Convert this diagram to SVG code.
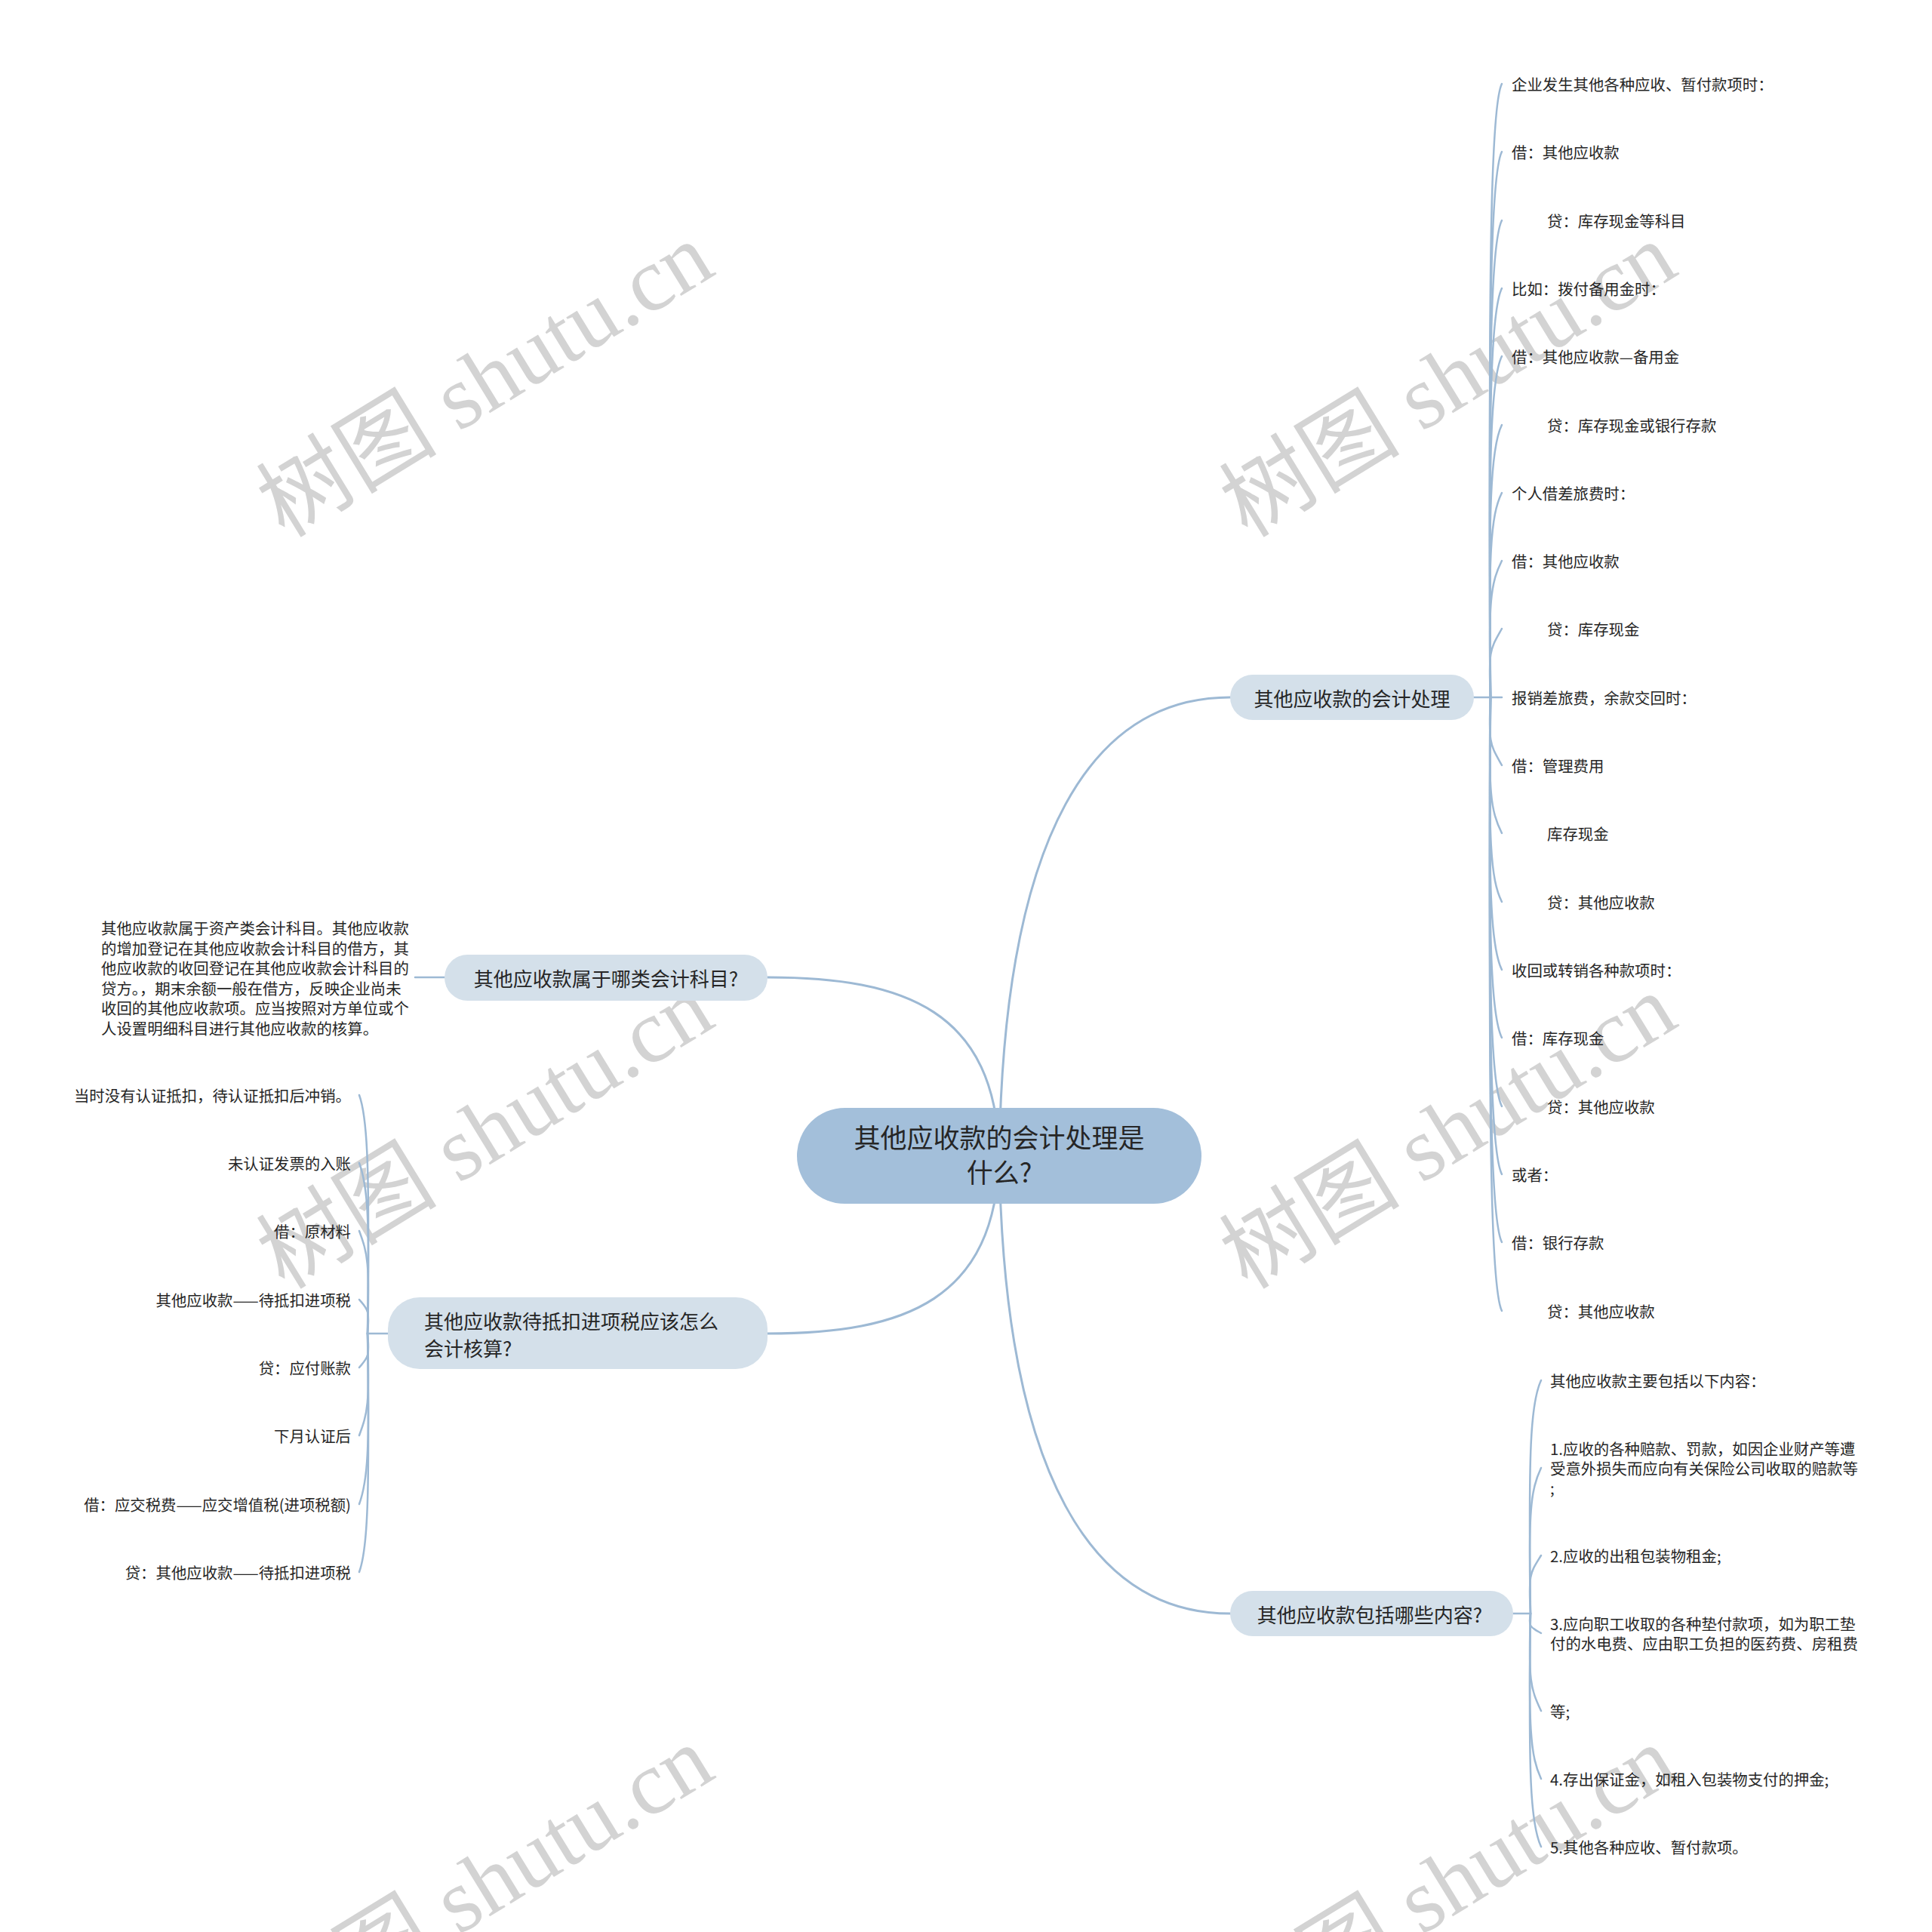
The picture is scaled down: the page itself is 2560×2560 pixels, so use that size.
<svg xmlns="http://www.w3.org/2000/svg" width="2560" height="2560" viewBox="0 0 2560 2560">
<style>
.wm{font-family:"Liberation Serif","Noto Sans CJK SC",serif;font-size:120px;fill:#d3d3d3;text-anchor:middle}
.ln{fill:none;stroke:#9db9d4;stroke-width:3;stroke-linecap:round}
.lf{fill:none;stroke:#9db9d4;stroke-width:2.5;stroke-linecap:round}
.t{font-family:"Noto Sans CJK SC","Noto Sans",sans-serif;fill:#262626;dominant-baseline:central}
.leaf{font-size:20.4px}
.br{font-size:26px}
.ctr{font-size:35px}
.mid{text-anchor:middle}
.end{text-anchor:end}
.b1{fill:#d4e0ea}
</style>
<rect width="2560" height="2560" fill="#ffffff"/>
<g id="watermarks">
<text class="wm" transform="translate(664,538) rotate(-31.5)">树图 shutu.cn</text>
<text class="wm" transform="translate(1940,538) rotate(-31.5)">树图 shutu.cn</text>
<text class="wm" transform="translate(664,1534) rotate(-31.5)">树图 shutu.cn</text>
<text class="wm" transform="translate(1940,1534) rotate(-31.5)">树图 shutu.cn</text>
<text class="wm" transform="translate(664,2530) rotate(-31.5)">树图 shutu.cn</text>
<text class="wm" transform="translate(1940,2530) rotate(-31.5)">树图 shutu.cn</text>
</g>
<g id="connectors">
<path class="ln" d="M1324,1531 C1330,1100 1450,924 1630,924"/>
<path class="ln" d="M1324,1531 C1320,1340 1200,1295 1017,1295"/>
<path class="ln" d="M1324,1531 C1320,1722 1200,1767 1017,1767"/>
<path class="ln" d="M1324,1531 C1330,1960 1450,2138 1630,2138"/>
<path class="lf" d="M1953,924 H1990"/>
<path class="lf" d="M1975,924 C1972,355 1975,141 1990,111"/>
<path class="lf" d="M1975,924 C1972,418 1975,231 1990,201"/>
<path class="lf" d="M1975,924 C1972,482 1975,322 1990,292"/>
<path class="lf" d="M1975,924 C1972,545 1975,412 1990,382"/>
<path class="lf" d="M1975,924 C1972,608 1975,502 1990,472"/>
<path class="lf" d="M1975,924 C1972,671 1975,593 1990,563"/>
<path class="lf" d="M1975,924 C1972,734 1975,683 1990,653"/>
<path class="lf" d="M1975,924 C1972,797 1975,773 1990,743"/>
<path class="lf" d="M1975,924 C1972,860 1975,860 1990,833"/>
<path class="lf" d="M1975,924 C1972,987 1975,987 1990,1014"/>
<path class="lf" d="M1975,924 C1972,1050 1975,1074 1990,1104"/>
<path class="lf" d="M1975,924 C1972,1114 1975,1165 1990,1195"/>
<path class="lf" d="M1975,924 C1972,1177 1975,1255 1990,1285"/>
<path class="lf" d="M1975,924 C1972,1240 1975,1345 1990,1375"/>
<path class="lf" d="M1975,924 C1972,1303 1975,1436 1990,1466"/>
<path class="lf" d="M1975,924 C1972,1366 1975,1526 1990,1556"/>
<path class="lf" d="M1975,924 C1972,1429 1975,1616 1990,1646"/>
<path class="lf" d="M1975,924 C1972,1493 1975,1707 1990,1737"/>
<path class="lf" d="M2005,2138 H2028"/>
<path class="lf" d="M2028,2138 C2025,1922 2028,1859 2042,1829"/>
<path class="lf" d="M2028,2138 C2025,2003 2028,1975 2042,1945"/>
<path class="lf" d="M2028,2138 C2025,2084 2028,2084 2042,2061"/>
<path class="lf" d="M2028,2138 C2025,2156 2028,2156 2042,2164"/>
<path class="lf" d="M2028,2138 C2025,2228 2028,2237 2042,2267"/>
<path class="lf" d="M2028,2138 C2025,2291 2028,2327 2042,2357"/>
<path class="lf" d="M2028,2138 C2025,2354 2028,2417 2042,2447"/>
<path class="lf" d="M589,1295 H550"/>
<path class="lf" d="M514,1767 H487"/>
<path class="lf" d="M487,1767 C490,1546 487,1481 476,1451"/>
<path class="lf" d="M487,1767 C490,1609 487,1571 476,1541"/>
<path class="lf" d="M487,1767 C490,1672 487,1661 476,1631"/>
<path class="lf" d="M487,1767 C490,1735 487,1735 476,1722"/>
<path class="lf" d="M487,1767 C490,1799 487,1799 476,1812"/>
<path class="lf" d="M487,1767 C490,1862 487,1872 476,1902"/>
<path class="lf" d="M487,1767 C490,1925 487,1963 476,1993"/>
<path class="lf" d="M487,1767 C490,1988 487,2053 476,2083"/>
</g>
<g id="center">
<rect x="1056" y="1468" width="536" height="127" rx="63.5" fill="#a3bfda"/>
<text class="t ctr mid" x="1324" y="1505">其他应收款的会计处理是</text>
<text class="t ctr mid" x="1324" y="1551">什么?</text>
</g>
<g id="branch-accounting">
<rect class="b1" x="1630" y="894" width="323" height="60" rx="30"/>
<text class="t br mid" x="1791.5" y="924">其他应收款的会计处理</text>
</g>
<g id="branch-contents">
<rect class="b1" x="1630" y="2108" width="375" height="60" rx="30"/>
<text class="t br mid" x="1815" y="2138">其他应收款包括哪些内容?</text>
</g>
<g id="branch-category">
<rect class="b1" x="589" y="1265" width="428" height="61" rx="30.5"/>
<text class="t br mid" x="803" y="1295.5">其他应收款属于哪类会计科目?</text>
</g>
<g id="branch-tax">
<rect class="b1" x="514" y="1719" width="503" height="95" rx="42"/>
<text class="t br" x="562" y="1749">其他应收款待抵扣进项税应该怎么</text>
<text class="t br" x="562" y="1785">会计核算?</text>
</g>
<g id="leaves-accounting" class="t leaf">
<text x="2003" y="111">企业发生其他各种应收、暂付款项时：</text>
<text x="2003" y="201">借：其他应收款</text>
<text x="2050" y="292">贷：库存现金等科目</text>
<text x="2003" y="382">比如：拨付备用金时：</text>
<text x="2003" y="472">借：其他应收款—备用金</text>
<text x="2050" y="563">贷：库存现金或银行存款</text>
<text x="2003" y="653">个人借差旅费时：</text>
<text x="2003" y="743">借：其他应收款</text>
<text x="2050" y="833">贷：库存现金</text>
<text x="2003" y="924">报销差旅费，余款交回时：</text>
<text x="2003" y="1014">借：管理费用</text>
<text x="2050" y="1104">库存现金</text>
<text x="2050" y="1195">贷：其他应收款</text>
<text x="2003" y="1285">收回或转销各种款项时：</text>
<text x="2003" y="1375">借：库存现金</text>
<text x="2050" y="1466">贷：其他应收款</text>
<text x="2003" y="1556">或者：</text>
<text x="2003" y="1646">借：银行存款</text>
<text x="2050" y="1737">贷：其他应收款</text>
</g>
<g id="leaves-contents" class="t leaf">
<text x="2054" y="1829">其他应收款主要包括以下内容：</text>
<text x="2054" y="1919">1.应收的各种赔款、罚款，如因企业财产等遭</text>
<text x="2054" y="1945">受意外损失而应向有关保险公司收取的赔款等</text>
<text x="2054" y="1971">;</text>
<text x="2054" y="2061">2.应收的出租包装物租金;</text>
<text x="2054" y="2151">3.应向职工收取的各种垫付款项，如为职工垫</text>
<text x="2054" y="2177">付的水电费、应由职工负担的医药费、房租费</text>
<text x="2054" y="2267">等;</text>
<text x="2054" y="2357">4.存出保证金，如租入包装物支付的押金;</text>
<text x="2054" y="2447">5.其他各种应收、暂付款项。</text>
</g>
<g id="leaf-category" class="t leaf">
<text x="134" y="1229">其他应收款属于资产类会计科目。其他应收款</text>
<text x="134" y="1255.5">的增加登记在其他应收款会计科目的借方，其</text>
<text x="134" y="1282">他应收款的收回登记在其他应收款会计科目的</text>
<text x="134" y="1308.5">贷方。，期末余额一般在借方，反映企业尚未</text>
<text x="134" y="1335">收回的其他应收款项。应当按照对方单位或个</text>
<text x="134" y="1361.5">人设置明细科目进行其他应收款的核算。</text>
</g>
<g id="leaves-tax" class="t leaf end">
<text x="465" y="1451">当时没有认证抵扣，待认证抵扣后冲销。</text>
<text x="465" y="1541">未认证发票的入账</text>
<text x="465" y="1631">借：原材料</text>
<text x="465" y="1722">其他应收款——待抵扣进项税</text>
<text x="465" y="1812">贷：应付账款</text>
<text x="465" y="1902">下月认证后</text>
<text x="465" y="1993">借：应交税费——应交增值税(进项税额)</text>
<text x="465" y="2083">贷：其他应收款——待抵扣进项税</text>
</g>
</svg>
